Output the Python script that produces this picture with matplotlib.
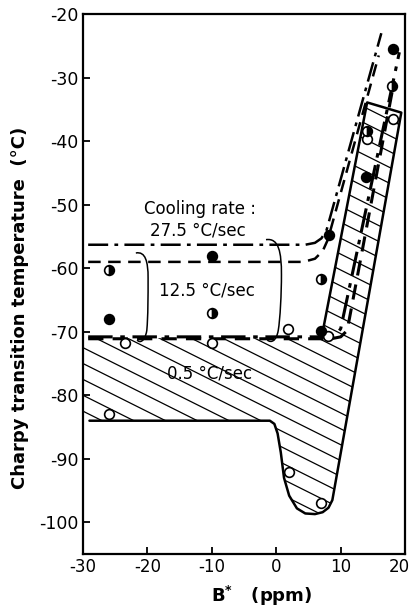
import numpy as np
import matplotlib
matplotlib.use("Agg")
import matplotlib.pyplot as plt
import matplotlib.transforms as mtransforms
from matplotlib.patches import Polygon, PathPatch
from matplotlib.path import Path

plt.rcParams['font.family'] = ['DejaVu Sans']
plt.rcParams['axes.unicode_minus'] = False

# ---- data ----
x_ticks = [-30, -20, -10, 0, 10, 20]
y_ticks = [-100, -90, -80, -70, -60, -50, -40, -30, -20]

# 0.5 C/sec (open circles)
open_x = [-26, -23.5, -10, 1.8, 2, 7, 8.1, 14.1, 18.1]
open_y = [-83, -71.8, -71.8, -69.6, -92, -97, -70.7, -39.7, -36.5]
# 12.5 C/sec (half-filled)
half_x = [-26, -10, 7, 18, 14.1]
half_y = [-60.2, -67, -61.7, -31.3, -38.4]
# 27.5 C/sec (filled)
fill_x = [-26, -10, 7, 8.2, 14, 18.1]
fill_y = [-68, -58.1, -69.8, -54.8, -45.7, -25.5]

# 0.5 C/sec scatter band (hatched) outline
band05_x = [-30, 7.0, 14.1, 19.4, 8.7, 8.1, 7.2, 6.0, 4.5, 3.2, 2.0, 1.2, 0.7, 0.2, -0.3, -1.0, -30]
band05_y = [-71, -71, -33.9, -35.5, -96.5, -97.7, -98.4, -98.7, -98.6, -97.8, -95.8, -93.0, -89.0, -86.0, -84.5, -84.0, -84.0]
# visible solid edges of that band
edge_x = [-29, -1.0, -0.3, 0.2, 0.7, 1.2, 2.0, 3.2, 4.5, 6.0, 7.2, 8.1, 8.7, 19.4, 14.1, 7.2]
edge_y = [-84.0, -84.0, -84.5, -86.0, -89.0, -93.0, -95.8, -97.8, -98.6, -98.7, -98.4, -97.7, -96.5, -35.5, -33.9, -70.0]

# 27.5 C/sec band bounds (dash-dot)
up275_x = [-29.2, 4.5, 6.0, 7.0, 7.8, 16.3]
up275_y = [-56.3, -56.3, -56.0, -55.3, -54.0, -23.0]
lo275_x = [-29.2, 8.0, 9.3, 10.0, 19.1]
lo275_y = [-70.8, -70.8, -70.5, -69.5, -26.0]
# 12.5 C/sec band bounds (dashed)
up125_x = [-29.2, 4.2, 6.0, 7.2, 8.0, 15.9]
up125_y = [-59, -59, -58.5, -57.3, -55.5, -26.5]
lo125_x = [-29.2, 8.5, 10.0, 11.0, 18.3]
lo125_y = [-71.1, -71.1, -70.8, -69.8, -30.5]

# bracket curves (Bezier control points)
br275 = [(-1.6, -55.5), (0.4, -55.2), (0.8, -57.5), (0.8, -61.0),
         (0.8, -64.0), (0.6, -68.0), (0.3, -69.8),
         (0.0, -71.5), (-0.8, -71.8), (-1.4, -71.3)]
br125 = [(-21.8, -57.6), (-20.3, -57.3), (-19.9, -59.0), (-19.9, -61.5),
         (-19.9, -64.5), (-19.9, -67.5), (-20.1, -69.8),
         (-20.4, -71.6), (-21.2, -71.8), (-21.6, -71.3)]

fig = plt.figure(figsize=(4.13, 6.15), dpi=100)
ax = fig.add_axes([0.201, 0.099, 0.780, 0.878])
ax.set_xlim(-30, 20)
ax.set_ylim(-105, -20)

# hatched band
poly = Polygon(list(zip(band05_x, band05_y)), closed=True, facecolor='none', edgecolor='none')
ax.add_patch(poly)
slope = -0.507
for c in np.arange(-140, 10, 2.5):
    xs = np.array([-30, 20])
    ys = c + slope * (xs + 30)
    ln, = ax.plot(xs, ys, color='black', lw=0.9)
    ln.set_clip_path(poly)
ax.plot(edge_x, edge_y, color='black', lw=1.8, solid_capstyle='round', solid_joinstyle='round')

dashdot = (0, (8, 2.5, 1.5, 2.5))
dashed = (0, (5, 3))
ax.plot(up275_x, up275_y, color='black', lw=1.8, linestyle=dashdot)
ax.plot(lo275_x, lo275_y, color='black', lw=2.2, linestyle=dashdot)
ax.plot(up125_x, up125_y, color='black', lw=1.8, linestyle=dashed)
ax.plot(lo125_x, lo125_y, color='black', lw=2.2, linestyle=dashed)

for br in (br275, br125):
    codes = [Path.MOVETO] + [Path.CURVE4] * (len(br) - 1)
    ax.add_patch(PathPatch(Path(br, codes), facecolor='none', edgecolor='black', lw=1.1))

ms = 7
ax.plot(open_x, open_y, 'o', ms=ms, mfc='white', mec='black', mew=1.2, zorder=5)
ax.plot(half_x, half_y, 'o', ms=ms, fillstyle='right', mfc='black', mfcalt='white',
        mec='black', mew=1.2, zorder=5)
ax.plot(fill_x, fill_y, 'o', ms=ms, mfc='black', mec='black', mew=1.2, zorder=5)

ax.text(-11.8, -50.6, "Cooling rate :", ha='center', va='center', fontsize=12)
ax.text(-12.1, -54.1, "27.5 °C/sec", ha='center', va='center', fontsize=12)
ax.text(-10.8, -63.5, "12.5 °C/sec", ha='center', va='center', fontsize=12)
ax.text(-10.3, -76.6, "0.5 °C/sec", ha='center', va='center', fontsize=12)

ax.set_xticks(x_ticks)
ax.set_xticklabels([str(t) for t in x_ticks])
ax.set_yticks(y_ticks)
ax.set_yticklabels([str(t) for t in y_ticks])
ax.tick_params(direction='in', length=5, width=1.3, labelsize=12.5, pad=3)
ax.tick_params(axis='x', labelsize=12)
for s in ax.spines.values():
    s.set_linewidth(1.6)

# nudge the last x tick label inward so it stays inside the figure
last = ax.get_xticklabels()[-1]
last.set_transform(last.get_transform() + mtransforms.ScaledTranslation(-6 / 100, 0, fig.dpi_scale_trans))

ax.set_ylabel("Charpy transition temperature  (°C)", fontsize=13, fontweight='bold')
ax.yaxis.set_label_coords(-0.168, 0.456)
ax.set_xlabel(r"B$^{\mathbf{*}}$   (ppm)", fontsize=13, fontweight='bold')
ax.xaxis.set_label_coords(0.556, -0.056)

fig.savefig("out.png", dpi=100)
